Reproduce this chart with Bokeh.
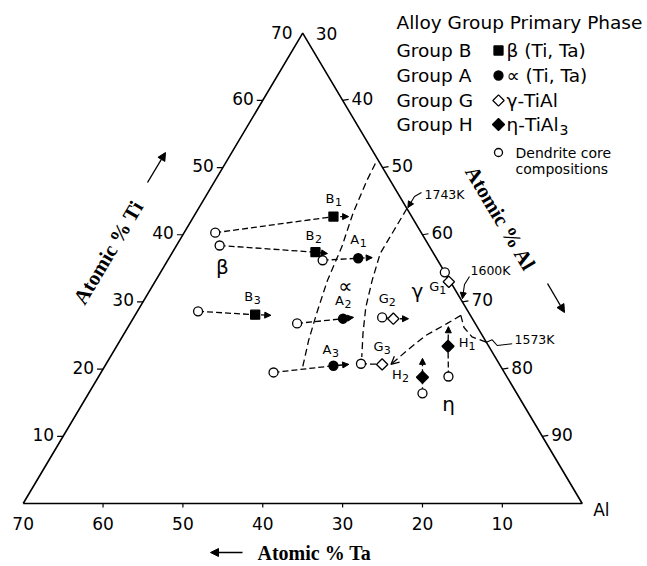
import math
import numpy as np
from bokeh.plotting import figure
from bokeh.models import Range1d, Arrow, NormalHead, OpenHead, ColumnDataSource
from bokeh.core.properties import value
from bokeh.embed import file_html
from bokeh.resources import INLINE

# ---------------- data (atomic %) ----------------
alloy_letters = ["B", "B", "B", "A", "A", "A", "G", "G", "G", "H", "H"]
alloy_numbers = ["1", "2", "3", "1", "2", "3", "1", "2", "3", "1", "2"]
alloy_groups = ["B", "B", "B", "A", "A", "A", "G", "G", "G", "H", "H"]
# dendrite core compositions
core_ta = [25.8, 26.2, 33.8, 14.4, 22.3, 28.9, 0.0, 11.2, 17.3, 7.3, 11.8]
core_ti = [40.3, 38.4, 28.6, 36.2, 26.8, 19.5, 34.4, 27.7, 20.8, 18.9, 16.4]
# alloy (primary phase) compositions
prim_ta = [9.8, 14.7, 26.9, 9.8, 16.2, 20.9, 0.2, 9.9, 14.7, 5.1, 10.6]
prim_ti = [42.7, 37.4, 28.1, 36.5, 27.5, 20.5, 33.0, 27.5, 20.7, 23.4, 18.8]
# direction of solidification path (arrow tips); nan = no arrow
nan = float("nan")
tip_ta = [7.9, 13.3, 25.0, 8.0, 14.8, 18.9, nan, 8.0, nan, 3.6, 9.2]
tip_ti = [42.7, 37.2, 28.0, 36.6, 27.7, 20.7, nan, 27.5, nan, 26.3, 21.6]

# phase boundaries (Ta, Ti)
beta_alpha_ta = [0.6, 2.9, 7.1, 11.0, 15.3, 19.1, 22.1, 25.2]
beta_alpha_ti = [50.6, 48.1, 43.2, 38.2, 33.2, 28.3, 24.3, 19.8]
alpha_gamma_ta = [0.0, 3.3, 6.7, 9.7, 12.5, 14.8, 16.7]
alpha_gamma_ti = [43.9, 40.6, 37.2, 33.2, 29.2, 25.3, 21.8]
gamma_eta_ta = [1.2, 3.5, 7.1, 10.5, 13.6]
gamma_eta_ti = [28.0, 26.8, 25.0, 22.8, 20.7]
eta_arc_ta = [1.2, 1.7, 1.4, 0.0]
eta_arc_ti = [28.0, 26.2, 24.8, 24.0]

# axis ticks
ti_ticks = [10, 20, 30, 40, 50, 60]
al_ticks = [40, 50, 60, 70, 80, 90]
ta_ticks = [10, 20, 30, 40, 50, 60]

legend_groups = ["Group B", "Group A", "Group G", "Group H"]
legend_phases = ["β (Ti, Ta)", "∝ (Ti, Ta)", "γ-TiAl", "η-TiAl"]

# ---------------- ternary -> plot coordinates ----------------
X_AL, SX, SY, Y0 = 581.7, 7.986, 6.719, 63.0
H = 566


def tx(ta, ti):
    return X_AL - SX * np.asarray(ta, float) - 0.5 * SX * np.asarray(ti, float)


def ty(ti):
    return Y0 + SY * np.asarray(ti, float)


FONT = value("DejaVu Sans")
SERIF = value("Liberation Serif")

p = figure(width=647, height=566, x_range=Range1d(0, 647), y_range=Range1d(0, H),
           output_backend="svg", toolbar_location=None,
           x_axis_location=None, y_axis_location=None, min_border=0,
           outline_line_color=None, background_fill_color="white",
           border_fill_color="white")
p.grid.visible = False

# triangle
tri_ta = [70, 0, 0, 70]
tri_ti = [0, 0, 70, 0]
p.line(tx(tri_ta, tri_ti), ty(tri_ti), line_color="black", line_width=1.6)

# ticks + labels, left edge (Ti)
lt = np.array(ti_ticks, float)
lx, ly = tx(70 - lt, lt), ty(lt)
p.segment(lx - 6, ly, lx, ly, line_color="black", line_width=1.2)
p.text(list(lx - 9) + [tx(0, 70) - 10], list(ly + 2) + [ty(70) + 1],
       text=[str(v) for v in ti_ticks] + ["70"], text_font=FONT, text_font_size="17px",
       text_align="right", text_baseline="middle", text_color="black")

# right edge (Al)
at = np.array(al_ticks, float)
rx, ry = tx(0 * at, 100 - at), ty(100 - at)
p.segment(rx, ry, rx + 6, ry + 1, line_color="black", line_width=1.2)
p.text(list(rx + 9) + [tx(0, 70) + 13], list(ry + 2) + [ty(70)],
       text=[str(v) for v in al_ticks] + ["30"], text_font=FONT, text_font_size="17px",
       text_align="left", text_baseline="middle", text_color="black")

# bottom edge (Ta)
bt = np.array(ta_ticks, float)
bx, by = tx(bt, 0 * bt), ty(0 * bt)
p.segment(bx, by, bx, by - 4, line_color="black", line_width=1.2)
p.text(list(bx) + [tx(70, 0)], list(by - 20) + [ty(0) - 20],
       text=[str(v) for v in ta_ticks] + ["70"], text_font=FONT, text_font_size="17px",
       text_align="center", text_baseline="middle", text_color="black")
p.text([tx(0, 0) + 11], [ty(0) - 6], text=["Al"], text_font=FONT, text_font_size="17px",
       text_align="left", text_baseline="middle", text_color="black")

# axis titles
ang = math.atan2(SY * 70, 0.5 * SX * 70)
p.text([108], [H - 252], text=["Atomic % Ti"], angle=ang, text_font=SERIF,
       text_font_size="21px", text_font_style="bold", text_align="center",
       text_baseline="middle", text_color="black")
p.text([500], [H - 218], text=["Atomic % Al"], angle=-ang, text_font=SERIF,
       text_font_size="21px", text_font_style="bold", text_align="center",
       text_baseline="middle", text_color="black")
p.text([257], [H - 552], text=["Atomic % Ta"], text_font=SERIF,
       text_font_size="20px", text_font_style="bold", text_align="left",
       text_baseline="middle", text_color="black")
for (x0, y0, x1, y1) in [(147, 182, 165, 152), (547, 283, 564, 312), (242, 552, 210, 552)]:
    p.add_layout(Arrow(end=NormalHead(size=8, fill_color="black", line_color="black"),
                       x_start=x0, y_start=H - y0, x_end=x1, y_end=H - y1,
                       line_color="black", line_width=1.4))

# phase boundaries
DASH = "7 4"
for bta, bti in [(beta_alpha_ta, beta_alpha_ti), (alpha_gamma_ta, alpha_gamma_ti),
                 (gamma_eta_ta, gamma_eta_ti), (eta_arc_ta, eta_arc_ti)]:
    p.line(tx(bta, bti), ty(bti), line_color="black", line_width=1.3, line_dash=DASH)
# arrow at end of gamma/eta boundary
gx, gy = tx(gamma_eta_ta[-2:], gamma_eta_ti[-2:]), ty(gamma_eta_ti[-2:])
p.add_layout(Arrow(end=OpenHead(size=8, line_color="black", line_width=1.3),
                   x_start=gx[0], y_start=gy[0], x_end=gx[1], y_end=gy[1],
                   line_alpha=0))


# temperature annotations
def leader(points_screen, head=True):
    xs = [a for a, b in points_screen]
    ys = [H - b for a, b in points_screen]
    p.line(xs, ys, line_color="black", line_width=1.1)
    if head:
        p.add_layout(Arrow(end=NormalHead(size=6, fill_color="black", line_color="black"),
                           x_start=xs[-2], y_start=ys[-2], x_end=xs[-1], y_end=ys[-1],
                           line_alpha=0))


e1743 = (float(tx(0, 43.9)), H - float(ty(43.9)))
leader([(421, 192), (414, 196), (e1743[0] + 1, e1743[1] - 1)])
e1600 = (float(tx(0, 30.5)) + 2, H - float(ty(30.5)))
leader([(469, 276), (464, 284), e1600])
e1573 = (float(tx(0, 24.0)), H - float(ty(24.0)))
leader([e1573, (491.7, 339.3), (496.7, 345), (511.7, 343.3)], head=False)
p.text([424, 470, 514], [H - 194, H - 270, H - 339], text=["1743K", "1600K", "1573K"],
       text_font=FONT, text_font_size="12.5px", text_align="left",
       text_baseline="middle", text_color="black")

# tie lines (dendrite core -> alloy -> solidification direction)
xs_list, ys_list = [], []
ax0, ay0, ax1, ay1 = [], [], [], []
for i in range(len(alloy_groups)):
    pta = [core_ta[i], prim_ta[i]]
    pti = [core_ti[i], prim_ti[i]]
    if not math.isnan(tip_ta[i]):
        pta.append(tip_ta[i])
        pti.append(tip_ti[i])
        ax0.append(float(tx(prim_ta[i], prim_ti[i])))
        ay0.append(float(ty(prim_ti[i])))
        ax1.append(float(tx(tip_ta[i], tip_ti[i])))
        ay1.append(float(ty(tip_ti[i])))
    xs_list.append(list(tx(pta, pti)))
    ys_list.append(list(ty(pti)))
p.multi_line(xs_list, ys_list, line_color="black", line_width=1.3, line_dash="6 3")
p.add_layout(Arrow(end=NormalHead(size=6, fill_color="black", line_color="black"),
                   source=ColumnDataSource(dict(x0=ax0, y0=ay0, x1=ax1, y1=ay1)),
                   x_start="x0", y_start="y0", x_end="x1", y_end="y1", line_alpha=0))

# markers
cx, cy = tx(core_ta, core_ti), ty(core_ti)
p.scatter(cx, cy, marker="circle", size=9, fill_color="white", line_color="black",
          line_width=1.3)
px_, py_ = tx(prim_ta, prim_ti), ty(prim_ti)
style = {"B": ("square", 0.0, 9, "black"), "A": ("circle", 0.0, 9, "black"),
         "G": ("square", math.pi / 4, 8, "white"), "H": ("square", math.pi / 4, 8.5, "black")}
for g, (mk, an, sz, fc) in style.items():
    idx = [i for i, gg in enumerate(alloy_groups) if gg == g]
    p.scatter(px_[idx], py_[idx], marker=mk, angle=an, size=sz, fill_color=fc,
              line_color="black", line_width=1.3)

# alloy labels (offsets in screen px): letter + subscript number
lab_dx = np.array([0, -2, -3, 0, 0, -3, -11, -6, 0, 19, -22], float)
lab_dy = np.array([14, 13, 14, 15, 14, 12, -9, 16, 14, 0, -1], float)
p.text(px_ + lab_dx - 3.5, py_ + lab_dy + 4, text=alloy_letters,
       text_font=FONT, text_font_size="13px", text_align="center",
       text_baseline="alphabetic", text_color="black")
p.text(px_ + lab_dx + 1.5, py_ + lab_dy + 0.5, text=alloy_numbers,
       text_font=FONT, text_font_size="11px", text_align="left",
       text_baseline="alphabetic", text_color="black")

# phase field labels
p.text([222, 345, 417, 448], [H - 266, H - 285, H - 290, H - 403],
       text=["β", "∝", "γ", "η"], text_font=FONT, text_font_size="20px",
       text_align="center", text_baseline="middle", text_color="black")

# legend
p.text([396], [H - 22], text=["Alloy Group Primary Phase"], text_font=FONT,
       text_font_size="18.5px", text_align="left", text_baseline="middle",
       text_color="black")
ly_leg = [H - 50, H - 75, H - 100, H - 124]
p.text([396] * 4, ly_leg, text=legend_groups, text_font=FONT, text_font_size="18.5px",
       text_align="left", text_baseline="middle", text_color="black")
p.text([506] * 4, ly_leg, text=legend_phases, text_font=FONT, text_font_size="18.5px",
       text_align="left", text_baseline="middle", text_color="black")
p.text([559], [ly_leg[3] - 5], text=["3"], text_font=FONT, text_font_size="14px",
       text_align="left", text_baseline="alphabetic", text_color="black")
for (mk, an, sz, fc), yy in zip(style.values(), ly_leg):
    p.scatter([498], [yy], marker=mk, angle=an, size=sz, fill_color=fc,
              line_color="black", line_width=1.3)
p.scatter([498], [H - 152], marker="circle", size=8, fill_color="white",
          line_color="black", line_width=1.3)
p.text([515, 515], [H - 152, H - 168], text=["Dendrite core", "compositions"],
       text_font=FONT, text_font_size="14px", text_align="left",
       text_baseline="middle", text_color="black")

open("out.html", "w").write(file_html(p, INLINE))
